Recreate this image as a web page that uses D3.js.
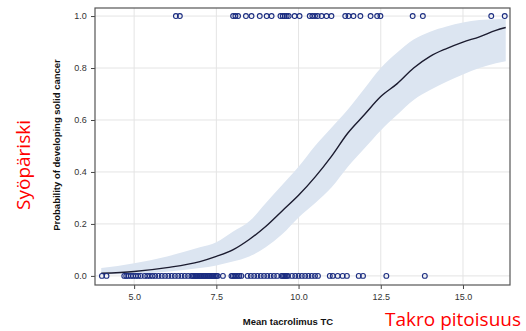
<!DOCTYPE html>
<html>
<head>
<meta charset="utf-8">
<script src="https://cdn.jsdelivr.net/npm/d3@7"></script>
<style>
  body { margin: 0; background: #fff; }
  svg { display: block; }
</style>
</head>
<body>
<div id="chart"></div>
<script>
// fitted probability curve
const curveX = [4.0, 5.0, 6.0, 7.0, 7.5, 8.0, 8.5, 9.0, 9.5, 10.0, 10.5, 11.0, 11.5, 12.0, 12.5, 13.0, 13.5, 14.0, 14.5, 15.0, 15.5, 16.0, 16.3];
const curveP = [0.010, 0.017, 0.032, 0.055, 0.075, 0.10, 0.14, 0.19, 0.25, 0.31, 0.38, 0.46, 0.55, 0.62, 0.69, 0.74, 0.80, 0.845, 0.875, 0.90, 0.92, 0.945, 0.956];
const upperP = [0.03, 0.049, 0.075, 0.11, 0.13, 0.17, 0.21, 0.28, 0.35, 0.42, 0.50, 0.57, 0.64, 0.72, 0.80, 0.86, 0.91, 0.94, 0.96, 0.975, 0.985, 0.988, 0.99];
const lowerP = [0.005, 0.008, 0.016, 0.03, 0.04, 0.055, 0.075, 0.11, 0.16, 0.225, 0.28, 0.34, 0.42, 0.49, 0.56, 0.62, 0.677, 0.715, 0.747, 0.775, 0.80, 0.818, 0.826];

// observed patients: cancer (1) and no cancer (0)
const cancerTC = [6.27, 6.39, 8.01, 8.08, 8.16, 8.40, 8.57, 8.82, 9.03, 9.18, 9.45, 9.52, 9.58, 9.64, 9.70, 9.88, 10.03, 10.34, 10.42, 10.50, 10.58, 10.70, 10.85, 11.00, 11.42, 11.52, 11.67, 11.88, 12.19, 12.39, 12.49, 13.47, 13.78, 15.86, 16.27];
const noCancerTC = [4.02, 4.16, 4.70, 4.76, 4.82, 4.90, 4.97, 5.05, 5.12, 5.20, 5.32, 5.40, 5.48, 5.56, 5.64, 5.74, 5.84, 5.94, 6.04, 6.14, 6.24, 6.34, 6.44, 6.54, 6.64, 6.74, 6.78, 6.82, 6.86, 6.90, 6.94, 6.98, 7.02, 7.06, 7.10, 7.14, 7.18, 7.22, 7.26, 7.30, 7.34, 7.38, 7.42, 7.46, 7.50, 7.54, 7.70, 7.96, 8.00, 8.05, 8.10, 8.15, 8.20, 8.26, 8.45, 8.55, 8.65, 8.75, 8.85, 8.95, 9.05, 9.15, 9.25, 9.35, 9.48, 9.52, 9.56, 9.60, 9.64, 9.68, 9.80, 9.90, 10.00, 10.10, 10.20, 10.30, 10.40, 10.50, 10.59, 10.95, 11.04, 11.19, 11.34, 11.47, 11.83, 11.96, 12.67, 13.84];

const xTicks = [5.0, 7.5, 10.0, 12.5, 15.0];
const yTicks = [0.0, 0.2, 0.4, 0.6, 0.8, 1.0];

const width = 526, height = 331;
const plot = { left: 95, right: 510, top: 8, bottom: 285 };

const svg = d3.select('#chart')
  .append('svg')
  .attr('width', width)
  .attr('height', height);

const x = d3.scaleLinear().domain([3.81, 16.43]).range([plot.left, plot.right]);
const y = d3.scaleLinear().domain([-0.035, 1.031]).range([plot.bottom, plot.top]);

// grid
svg.selectAll('.x-grid')
  .data(xTicks)
  .enter()
  .append('line')
  .attr('x1', d => x(d)).attr('x2', d => x(d))
  .attr('y1', plot.top).attr('y2', plot.bottom)
  .attr('stroke', '#e4e4e4')
  .attr('stroke-width', 1);

svg.selectAll('.y-grid')
  .data(yTicks)
  .enter()
  .append('line')
  .attr('x1', plot.left).attr('x2', plot.right)
  .attr('y1', d => y(d)).attr('y2', d => y(d))
  .attr('stroke', '#e4e4e4')
  .attr('stroke-width', 1);

// confidence band
const band = curveX.map((v, i) => [v, lowerP[i], upperP[i]]);
const area = d3.area()
  .x(d => x(d[0]))
  .y0(d => y(d[1]))
  .y1(d => y(d[2]))
  .curve(d3.curveMonotoneX);

svg.append('path')
  .datum(band)
  .attr('fill', '#dce5f1')
  .attr('d', area);

// fitted line
const line = d3.line()
  .x(d => x(d[0]))
  .y(d => y(d[1]))
  .curve(d3.curveMonotoneX);

svg.append('path')
  .datum(curveX.map((v, i) => [v, curveP[i]]))
  .attr('fill', 'none')
  .attr('stroke', '#1b1b2f')
  .attr('stroke-width', 1.4)
  .attr('d', line);

// observations
const pts = cancerTC.map(v => [v, 1]).concat(noCancerTC.map(v => [v, 0]));
svg.selectAll('.obs')
  .data(pts)
  .enter()
  .append('circle')
  .attr('cx', d => x(d[0]))
  .attr('cy', d => y(d[1]))
  .attr('r', 2.4)
  .attr('fill', 'none')
  .attr('stroke', '#1a2c80')
  .attr('stroke-width', 1.1);

// axes
const xAxis = svg.append('g')
  .attr('transform', `translate(0, ${plot.bottom})`)
  .call(d3.axisBottom(x).tickValues(xTicks).tickFormat(d3.format('.1f')).tickSize(4).tickSizeOuter(0));
const yAxis = svg.append('g')
  .attr('transform', `translate(${plot.left}, 0)`)
  .call(d3.axisLeft(y).tickValues(yTicks).tickFormat(d3.format('.1f')).tickSize(4).tickSizeOuter(0));

[xAxis, yAxis].forEach(g => {
  g.select('.domain').remove();
  g.selectAll('line').attr('stroke', '#444');
  g.selectAll('text')
    .attr('fill', '#333')
    .style('font-family', 'Liberation Sans, Arial, sans-serif')
    .style('font-size', '9px');
});
xAxis.selectAll('text').attr('dy', '0.9em');
yAxis.selectAll('text').attr('dx', '-0.15em');

// frame
svg.append('rect')
  .attr('x', plot.left).attr('y', plot.top)
  .attr('width', plot.right - plot.left)
  .attr('height', plot.bottom - plot.top)
  .attr('fill', 'none')
  .attr('stroke', '#555')
  .attr('stroke-width', 1.2);

// titles
svg.append('text')
  .attr('transform', 'translate(60, 145) rotate(-90)')
  .attr('text-anchor', 'middle')
  .style('font-family', 'Liberation Sans, Arial, sans-serif')
  .style('font-weight', 'bold')
  .style('font-size', '9.5px')
  .attr('fill', '#111')
  .text('Probability of developing solid cancer');

svg.append('text')
  .attr('x', 288).attr('y', 325)
  .attr('text-anchor', 'middle')
  .style('font-family', 'Liberation Sans, Arial, sans-serif')
  .style('font-weight', 'bold')
  .style('font-size', '9.5px')
  .attr('fill', '#111')
  .text('Mean tacrolimus TC');

// red annotations
svg.append('text')
  .attr('transform', 'translate(30, 165) rotate(-90)')
  .attr('text-anchor', 'middle')
  .style('font-family', 'Open Sans, Liberation Sans, sans-serif')
  .style('font-size', '19px')
  .attr('fill', '#ff0000')
  .text('Syöpäriski');

svg.append('text')
  .attr('x', 521).attr('y', 326)
  .attr('text-anchor', 'end')
  .style('font-family', 'Open Sans, Liberation Sans, sans-serif')
  .style('font-size', '19px')
  .attr('fill', '#ff0000')
  .text('Takro pitoisuus');
</script>
</body>
</html>
